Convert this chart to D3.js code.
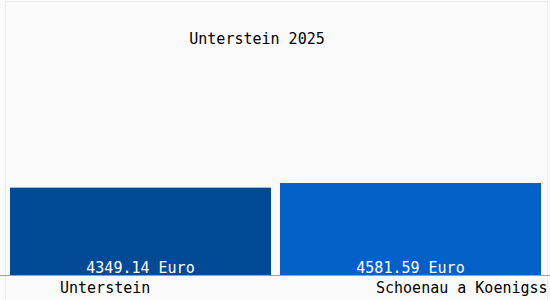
<!DOCTYPE html>
<html>
<head>
<meta charset="utf-8">
<script src="https://cdn.jsdelivr.net/npm/d3@7"></script>
<style>
	body { margin: 0; background: #fafafa; }
	text { font-family: 'DejaVu Sans Mono', monospace; font-size: 15px; }
</style>
</head>
<body>
<script>
var title = 'Unterstein 2025';
var places = ['Unterstein', 'Schoenau a Koenigss'];
var values = [4349.14, 4581.59];
var barColors = ['#024a96', '#0360c8'];
var labelShift = [50, 96];

var width = 550, height = 300;

var svg = d3.select('body').append('svg')
	.attr('width', width)
	.attr('height', height);

svg.append('rect').attr('x', 0).attr('y', 0).attr('width', width).attr('height', height).attr('fill', '#fafafa');

// faint frame
svg.append('rect').attr('x', 5.5).attr('y', 1.5).attr('width', 542).attr('height', 304)
	.attr('fill', 'none').attr('stroke', '#eeeeee');

var x = d3.scaleBand().domain(places).range([10, 541]).paddingInner(0.0333);
var y = d3.scaleLinear().domain([0, 11450]).range([275, 45]);

svg.append('text').attr('x', 257).attr('y', 44).attr('text-anchor', 'middle').attr('fill', '#000').text(title);

// bars
svg.selectAll('.bar').data(values).enter().append('rect').attr('class', 'bar')
	.attr('x', function (d, i) { return x(places[i]); })
	.attr('y', function (d) { return y(d); })
	.attr('width', x.bandwidth())
	.attr('height', function (d) { return y(0) - y(d); })
	.attr('fill', function (d, i) { return barColors[i]; });

// value labels
svg.selectAll('.val').data(values).enter().append('text').attr('class', 'val')
	.attr('x', function (d, i) { return x(places[i]) + x.bandwidth() / 2; })
	.attr('y', y(0) - 2)
	.attr('text-anchor', 'middle')
	.attr('fill', '#fff')
	.text(function (d) { return d.toFixed(2) + ' Euro'; });

// axis line
svg.append('line').attr('x1', 0).attr('x2', width).attr('y1', y(0) + 0.5).attr('y2', y(0) + 0.5)
	.attr('stroke', '#a0a0a0');

// category labels
svg.selectAll('.cat').data(places).enter().append('text').attr('class', 'cat')
	.attr('x', function (d, i) { return x(d) + labelShift[i]; })
	.attr('y', 293)
	.attr('fill', '#000')
	.text(function (d) { return d; });
</script>
</body>
</html>
